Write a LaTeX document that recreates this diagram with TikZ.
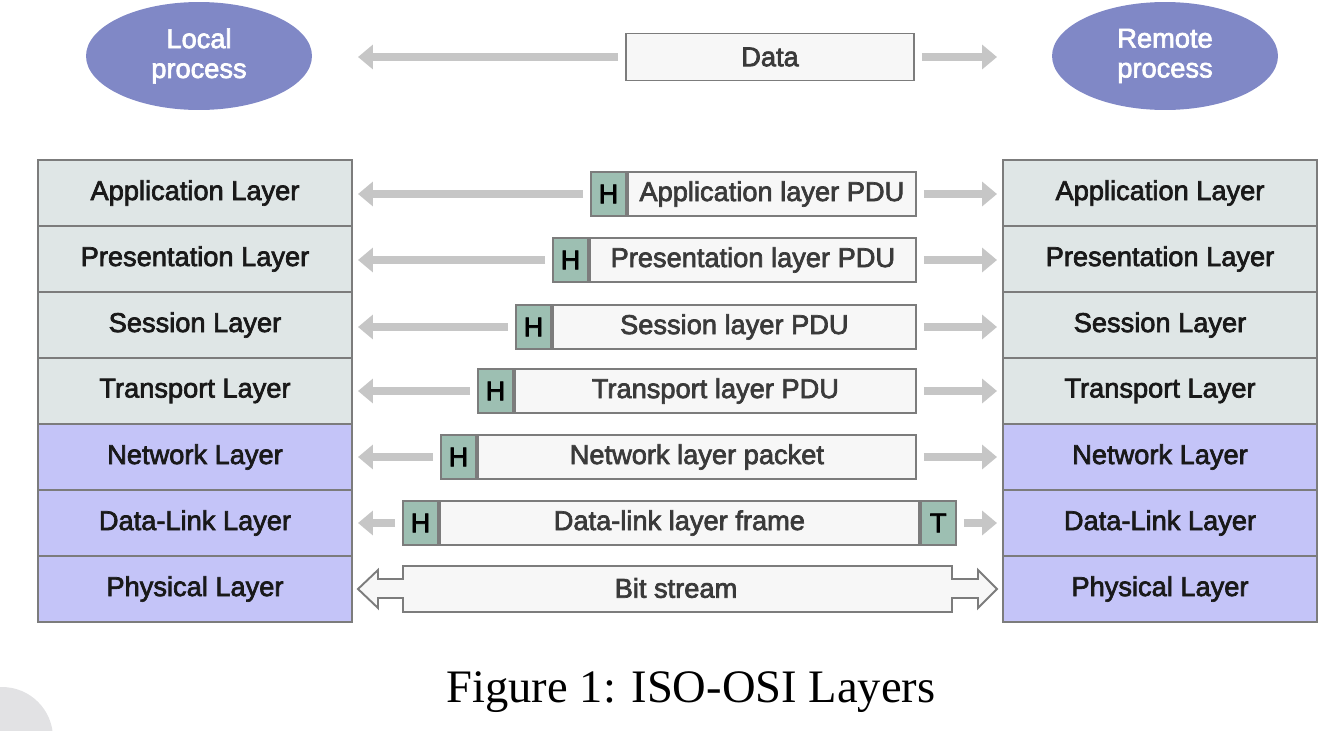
\documentclass[tikz,border=0pt]{standalone}
\usepackage{fontspec}
\setmainfont{Liberation Serif}
\newfontfamily\osifont{Liberation Sans}[FakeBold=2.5]
\usetikzlibrary{shapes.geometric,arrows.meta}

\definecolor{upperfill}{HTML}{DFE6E6}
\definecolor{lowerfill}{HTML}{C4C4F8}
\definecolor{edgegray}{HTML}{7C7C7C}
\definecolor{processfill}{HTML}{8088C6}
\definecolor{headfill}{HTML}{9DBFB2}
\definecolor{pdufill}{HTML}{F7F7F7}
\definecolor{arrowgray}{HTML}{C6C6C6}
\definecolor{blobgray}{HTML}{E2E2E4}
\definecolor{pdutext}{HTML}{3A3A3A}

\begin{document}
\begin{tikzpicture}[x=0.02cm, y=-0.02cm,
	  osi/.style={font=\osifont\fontsize{15.5}{17}\selectfont},
	  layer/.style={osi, draw=edgegray, line width=1.1pt, minimum width=6.28cm, minimum height=1.32cm, inner sep=0pt, text=black!90},
	  upper/.style={layer, fill=upperfill},
	  lower/.style={layer, fill=lowerfill},
	  process/.style={osi, ellipse, fill=processfill, text=white, minimum width=4.52cm, minimum height=2.16cm, align=center, inner sep=0pt},
	  pdu/.style={osi, draw=edgegray, line width=1.1pt, fill=pdufill, minimum height=0.88cm, inner sep=0pt, text=pdutext},
	  hbox/.style={osi, draw=edgegray, line width=1.1pt, fill=headfill, minimum width=0.7cm, minimum height=0.88cm, inner sep=0pt, text=black},
	  grayarrow/.style={draw=arrowgray, line width=4pt, -{Triangle[length=8.5pt,width=13.6pt]}, shorten <=4pt}]
	  \useasboundingbox (0,0) rectangle (1324,730);

	  % grey blob at the lower left
	  \begin{scope}
	    \clip (0,0) rectangle (1324,730);
	    \fill [blobgray] (2,738) circle (51);
	  \end{scope}

	  % processes and data
	  \node [process] (local) at (199,56) {Local\\process};
	  \node [process] (remote) at (1165,56) {Remote\\process};
	  \node [pdu, minimum width=5.76cm, minimum height=0.94cm] (data) at (770,57) {Data};
	  \coordinate (dataL) at (358,57);
	  \coordinate (dataR) at (997,57);
	  \draw [grayarrow] (data.west) -- (dataL);
	  \draw [grayarrow] (data.east) -- (dataR);

	  % local stack
	  \node [upper] (la1) at (195,193) {Application Layer};
	  \node [upper] (la2) at (195,259) {Presentation Layer};
	  \node [upper] (la3) at (195,325) {Session Layer};
	  \node [upper] (la4) at (195,391) {Transport Layer};
	  \node [lower] (la5) at (195,457) {Network Layer};
	  \node [lower] (la6) at (195,523) {Data-Link Layer};
	  \node [lower] (la7) at (195,589) {Physical Layer};

	  % remote stack
	  \node [upper] (ra1) at (1160,193) {Application Layer};
	  \node [upper] (ra2) at (1160,259) {Presentation Layer};
	  \node [upper] (ra3) at (1160,325) {Session Layer};
	  \node [upper] (ra4) at (1160,391) {Transport Layer};
	  \node [lower] (ra5) at (1160,457) {Network Layer};
	  \node [lower] (ra6) at (1160,523) {Data-Link Layer};
	  \node [lower] (ra7) at (1160,589) {Physical Layer};

	  % protocol data units
	  \node [hbox] (h1) at (608.5,194) {H};
	  \node [pdu, minimum width=5.76cm, anchor=west] (pdu1) at (h1.east) {Application layer PDU};
	  \node [hbox] (h2) at (570.5,260) {H};
	  \node [pdu, minimum width=6.52cm, anchor=west] (pdu2) at (h2.east) {Presentation layer PDU};
	  \node [hbox] (h3) at (533.5,327) {H};
	  \node [pdu, minimum width=7.26cm, anchor=west] (pdu3) at (h3.east) {Session layer PDU};
	  \node [hbox] (h4) at (495.5,391) {H};
	  \node [pdu, minimum width=8.02cm, anchor=west] (pdu4) at (h4.east) {Transport layer PDU};
	  \node [hbox] (h5) at (458.5,457) {H};
	  \node [pdu, minimum width=8.76cm, anchor=west] (pdu5) at (h5.east) {Network layer packet};
	  \node [hbox] (h6) at (420.5,523) {H};
	  \node [pdu, minimum width=9.58cm, anchor=west] (pdu6) at (h6.east) {Data-link layer frame};
	  \node [hbox, anchor=west] (t6) at (pdu6.east) {T};

	  % arrows between the stacks
	  \coordinate (l1) at (358,194); \coordinate (r1) at (997,194);
	  \coordinate (l2) at (358,260); \coordinate (r2) at (997,260);
	  \coordinate (l3) at (358,327); \coordinate (r3) at (997,327);
	  \coordinate (l4) at (358,391); \coordinate (r4) at (997,391);
	  \coordinate (l5) at (358,457); \coordinate (r5) at (997,457);
	  \coordinate (l6) at (358,523); \coordinate (r6) at (997,523);
	  \draw [grayarrow] (h1.west) -- (l1);
	  \draw [grayarrow] (pdu1.east) -- (r1);
	  \draw [grayarrow] (h2.west) -- (l2);
	  \draw [grayarrow] (pdu2.east) -- (r2);
	  \draw [grayarrow] (h3.west) -- (l3);
	  \draw [grayarrow] (pdu3.east) -- (r3);
	  \draw [grayarrow] (h4.west) -- (l4);
	  \draw [grayarrow] (pdu4.east) -- (r4);
	  \draw [grayarrow] (h5.west) -- (l5);
	  \draw [grayarrow] (pdu5.east) -- (r5);
	  \draw [grayarrow] (h6.west) -- (l6);
	  \draw [grayarrow] (t6.east) -- (r6);

	  % bit stream
	  \draw [draw=edgegray, line width=1.1pt, fill=pdufill]
	    (358,589) -- (378,570) -- (378,579) -- (403,579) -- (403,566) -- (952,566)
	    -- (952,579) -- (978,579) -- (978,570) -- (997,589) -- (978,608) -- (978,598)
	    -- (952,598) -- (952,612) -- (403,612) -- (403,598) -- (378,598) -- (378,608) -- cycle;
	  \node [osi, text=pdutext] (bits) at (676,588) {Bit stream};

	  % caption
	  \node [font=\fontsize{26.5}{30}\selectfont] (caption) at (691,692) {Figure 1: ISO-OSI Layers};
	\end{tikzpicture}
\end{document}
